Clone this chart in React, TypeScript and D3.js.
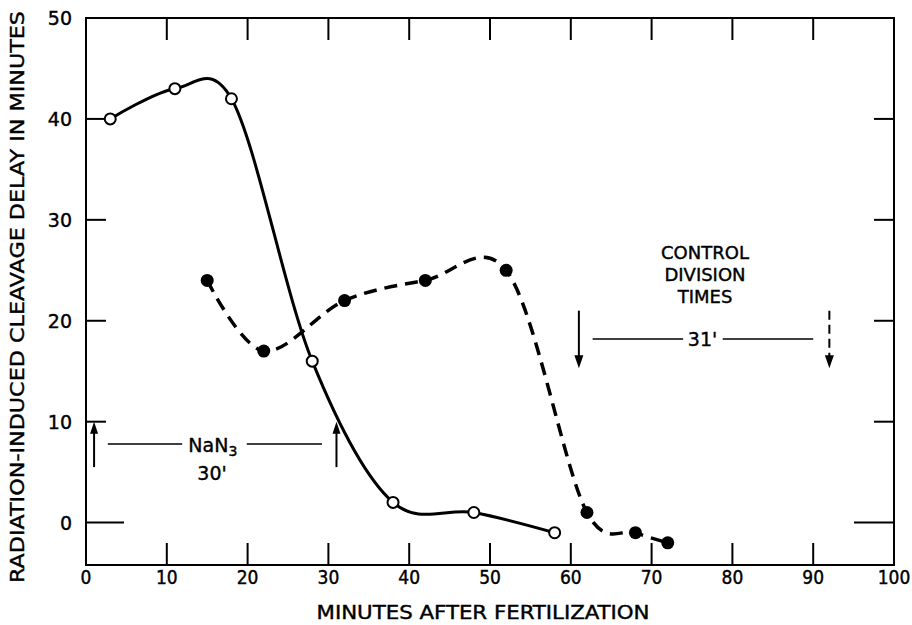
import React from "react";
import * as d3 from "d3";

// Open circles: delay when irradiated at given minute (solid curve)
const openX = [3, 11, 18, 28, 38, 48, 58];
const openY = [40, 43, 42, 16, 2, 1, -1];

// Filled circles: second series (dashed curve)
const filledX = [15, 22, 32, 42, 52, 62, 68, 72];
const filledY = [24, 17, 22, 24, 25, 1, -1, -2];

const xTicks = [0, 10, 20, 30, 40, 50, 60, 70, 80, 90, 100];
const yTicks = [0, 10, 20, 30, 40, 50];

// NaN3 treatment interval (minutes) and marker levels
const nanStart = 1;
const nanEnd = 31;
const nanArrowLow = 5.5;
const nanArrowHigh = 10;
const nanLineY = 7.8;

// Control division times interval
const ctrlStart = 61;
const ctrlEnd = 92;
const ctrlArrowHigh = 21;
const ctrlArrowLow = 15.3;
const ctrlLineY = 18.2;

const W = 912;
const H = 625;
const L = 86;
const R = 894;
const T = 18;
const B = 565;

const FONT = "'DejaVu Sans', sans-serif";
const FONT_C = "'DejaVu Sans Condensed', 'DejaVu Sans', sans-serif";

// lettering-pen weight for all text
const textStyle = { stroke: "#000", strokeWidth: 0.4 } as const;

export default function App() {
  const x = d3.scaleLinear().domain([0, 100]).range([L, R]);
  const y = d3.scaleLinear().domain([-4.2, 50]).range([B, T]);

  const curve = d3.curveCatmullRom.alpha(0.1);
  const line = d3
    .line<[number, number]>()
    .x((d) => x(d[0]))
    .y((d) => y(d[1]))
    .curve(curve);

  const openPts: [number, number][] = openX.map((v, i) => [v, openY[i]]);
  const filledPts: [number, number][] = filledX.map((v, i) => [v, filledY[i]]);

  const upArrow = (xv: number, lo: number, hi: number, key: string) => {
    const px = x(xv);
    const tip = y(hi);
    return (
      <g key={key}>
        <line x1={px} x2={px} y1={y(lo)} y2={tip + 10} stroke="#000" strokeWidth={2} />
        <path d={`M${px},${tip} L${px - 4},${tip + 12} L${px + 4},${tip + 12} Z`} fill="#000" />
      </g>
    );
  };

  const downArrow = (xv: number, hi: number, lo: number, dashed: boolean, key: string) => {
    const px = x(xv);
    const tip = y(lo);
    return (
      <g key={key}>
        <line
          x1={px}
          x2={px}
          y1={y(hi)}
          y2={tip - 10}
          stroke="#000"
          strokeWidth={2}
          strokeDasharray={dashed ? "9 5" : undefined}
        />
        <path d={`M${px},${tip} L${px - 4.5},${tip - 13} L${px + 4.5},${tip - 13} Z`} fill="#000" />
      </g>
    );
  };

  return (
    <svg
      width={W}
      height={H}
      style={{ position: "absolute", left: 0, top: 0, background: "#fff" }}
    >
      <rect x={0} y={0} width={W} height={H} fill="#fff" />

      {/* frame */}
      <rect x={L} y={T} width={R - L} height={B - T} fill="none" stroke="#000" strokeWidth={2} />

      {/* x ticks, top and bottom, pointing inward */}
      {xTicks.slice(1, -1).map((t) => (
        <g key={"xt" + t}>
          <line x1={x(t)} x2={x(t)} y1={B} y2={B - 22} stroke="#000" strokeWidth={2} />
          <line x1={x(t)} x2={x(t)} y1={T} y2={T + 22} stroke="#000" strokeWidth={2} />
        </g>
      ))}

      {/* y ticks, left and right, pointing inward */}
      {yTicks.slice(0, -1).map((t) => (
        <g key={"yt" + t}>
          <line x1={L} x2={L + (t === 0 ? 38 : 20)} y1={y(t)} y2={y(t)} stroke="#000" strokeWidth={2} />
          <line x1={R} x2={R - (t === 0 ? 40 : 20)} y1={y(t)} y2={y(t)} stroke="#000" strokeWidth={2} />
        </g>
      ))}

      {/* x tick labels */}
      {xTicks.map((t) => (
        <text
          key={"xl" + t}
          x={x(t)}
          y={584}
          textAnchor="middle"
          fontFamily={FONT_C}
          fontSize={19}
          fill="#000"
          style={textStyle}
        >
          {t}
        </text>
      ))}

      {/* y tick labels */}
      {yTicks.map((t) => (
        <text
          key={"yl" + t}
          x={72}
          y={y(t) + 7}
          textAnchor="end"
          fontFamily={FONT}
          fontSize={19}
          fill="#000"
          style={textStyle}
        >
          {t}
        </text>
      ))}

      {/* axis titles */}
      <text
        x={483}
        y={619}
        textAnchor="middle"
        fontFamily={FONT_C}
        fontSize={20}
        textLength={333}
        lengthAdjust="spacingAndGlyphs"
        fill="#000"
        style={textStyle}
      >
        MINUTES AFTER FERTILIZATION
      </text>
      <text
        transform="translate(24,297) rotate(-90)"
        textAnchor="middle"
        fontFamily={FONT}
        fontSize={20}
        textLength={572}
        lengthAdjust="spacingAndGlyphs"
        fill="#000"
        style={textStyle}
      >
        RADIATION-INDUCED CLEAVAGE DELAY IN MINUTES
      </text>

      {/* curves */}
      <path d={line(openPts) ?? ""} fill="none" stroke="#000" strokeWidth={3} />
      <path
        d={line(filledPts) ?? ""}
        fill="none"
        stroke="#000"
        strokeWidth={3.5}
        strokeDasharray="13 8"
      />

      {/* markers */}
      {openPts.map((d, i) => (
        <circle key={"o" + i} cx={x(d[0])} cy={y(d[1])} r={5.5} fill="#fff" stroke="#000" strokeWidth={2} />
      ))}
      {filledPts.map((d, i) => (
        <circle key={"f" + i} cx={x(d[0])} cy={y(d[1])} r={6.5} fill="#000" />
      ))}

      {/* NaN3 treatment annotation */}
      {upArrow(nanStart, nanArrowLow, nanArrowHigh, "na1")}
      {upArrow(nanEnd, nanArrowLow, nanArrowHigh, "na2")}
      <line x1={x(2.7)} x2={x(11.9)} y1={y(nanLineY)} y2={y(nanLineY)} stroke="#000" strokeWidth={1.5} />
      <line x1={x(19.9)} x2={x(29.2)} y1={y(nanLineY)} y2={y(nanLineY)} stroke="#000" strokeWidth={1.5} />
      <text x={x(15.7)} y={y(nanLineY) + 8} textAnchor="middle" fontFamily={FONT} fontSize={19} fill="#000" style={textStyle}>
        NaN
        <tspan fontSize={14} dy={4}>3</tspan>
      </text>
      <text x={x(15.6)} y={y(nanLineY) + 36} textAnchor="middle" fontFamily={FONT} fontSize={19} fill="#000" style={textStyle}>
        30'
      </text>

      {/* control division times annotation */}
      {downArrow(ctrlStart, ctrlArrowHigh, ctrlArrowLow, false, "c1")}
      {downArrow(ctrlEnd, ctrlArrowHigh, ctrlArrowLow, true, "c2")}
      <line x1={x(62.7)} x2={x(73.9)} y1={y(ctrlLineY)} y2={y(ctrlLineY)} stroke="#000" strokeWidth={1.5} />
      <line x1={x(78.8)} x2={x(90)} y1={y(ctrlLineY)} y2={y(ctrlLineY)} stroke="#000" strokeWidth={1.5} />
      <text x={x(76.3)} y={y(ctrlLineY) + 7} textAnchor="middle" fontFamily={FONT} fontSize={19} fill="#000" style={textStyle}>
        31'
      </text>
      {["CONTROL", "DIVISION", "TIMES"].map((s, i) => (
        <text
          key={s}
          x={705}
          y={259 + i * 22}
          textAnchor="middle"
          fontFamily={FONT}
          fontSize={18}
          fill="#000"
          style={textStyle}
        >
          {s}
        </text>
      ))}
    </svg>
  );
}
